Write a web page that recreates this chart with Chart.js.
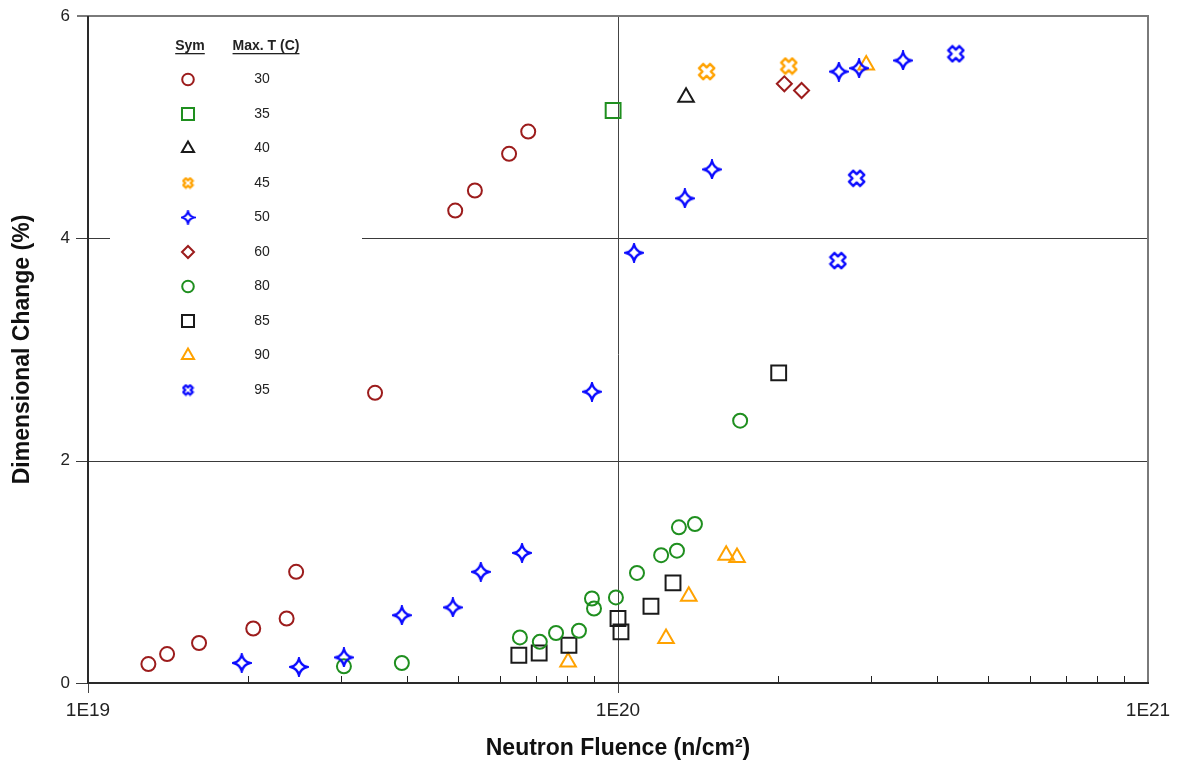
<!DOCTYPE html>
<html>
<head>
<meta charset="utf-8">
<script src="https://cdn.jsdelivr.net/npm/chart.js@4.4.1/dist/chart.umd.min.js"></script>
<style>
  html, body { margin: 0; padding: 0; background: #fff; }
  canvas { display: block; }
</style>
</head>
<body>
<canvas id="chart" width="1177" height="765"></canvas>
<script>
// fluence (n/cm²) and dimensional change (%) per max. irradiation temperature
const fluence30 = [1.30e19, 1.41e19, 1.62e19, 2.05e19, 2.37e19, 2.47e19, 3.48e19, 4.93e19, 5.37e19, 6.23e19, 6.77e19];
const change30 = [0.17, 0.26, 0.36, 0.49, 0.58, 1.00, 2.61, 4.25, 4.43, 4.76, 4.96];

const fluence35 = [9.79e19];
const change35 = [5.15];

const fluence40 = [1.344e20];
const change40 = [5.27];

const fluence45 = [1.47e20, 2.10e20];
const change45 = [5.50, 5.55];

const fluence50 = [1.95e19, 2.50e19, 3.04e19, 3.91e19, 4.88e19, 5.51e19, 6.59e19, 8.93e19, 1.072e20, 1.337e20, 1.504e20, 2.61e20, 2.85e20, 3.45e20];
const change50 = [0.18, 0.145, 0.23, 0.61, 0.68, 1.00, 1.17, 2.62, 3.87, 4.36, 4.62, 5.50, 5.53, 5.60];

const fluence60 = [2.06e20, 2.22e20];
const change60 = [5.39, 5.33];

const fluence80 = [3.04e19, 3.91e19, 6.53e19, 7.12e19, 7.64e19, 8.44e19, 8.93e19, 9.01e19, 9.91e19, 1.086e20, 1.206e20, 1.292e20, 1.303e20, 1.397e20, 1.70e20];
const change80 = [0.15, 0.18, 0.41, 0.37, 0.45, 0.47, 0.76, 0.67, 0.77, 0.99, 1.15, 1.19, 1.40, 1.43, 2.36];

const fluence85 = [6.50e19, 7.10e19, 8.08e19, 1.00e20, 1.013e20, 1.154e20, 1.27e20, 2.01e20];
const change85 = [0.25, 0.27, 0.34, 0.58, 0.46, 0.69, 0.90, 2.79];

const fluence90 = [8.05e19, 1.232e20, 1.36e20, 1.60e20, 1.677e20, 2.94e20];
const change90 = [0.19, 0.40, 0.78, 1.15, 1.13, 5.56];

const fluence95 = [4.34e20, 2.82e20, 2.60e20];
const change95 = [5.66, 4.54, 3.80];

const temps = ['30', '35', '40', '45', '50', '60', '80', '85', '90', '95'];
const yTicks = [0, 2, 4, 6];
const decades = [1e19, 1e20, 1e21];

const DARKRED = '#9c1c1c';
const GREEN = '#1f8f1f';
const BLACK = '#1a1a1a';
const ORANGE = '#ffa200';
const BLUE = '#0a0aff';

// 4-point star with concave sides
function makeStar(size, color, lw) {
  const c = document.createElement('canvas');
  c.width = c.height = size;
  const g = c.getContext('2d');
  const m = size / 2, R = m - lw / 2 - 0.5, k = R * 0.2;
  g.beginPath();
  g.moveTo(m, m - R);
  g.quadraticCurveTo(m + k, m - k, m + R, m);
  g.quadraticCurveTo(m + k, m + k, m, m + R);
  g.quadraticCurveTo(m - k, m + k, m - R, m);
  g.quadraticCurveTo(m - k, m - k, m, m - R);
  g.closePath();
  g.strokeStyle = color;
  g.lineWidth = lw;
  g.stroke();
  return c;
}

// outlined thick X
function makeCross(size, color, lw) {
  const c = document.createElement('canvas');
  c.width = c.height = size;
  const g = c.getContext('2d');
  const m = size / 2, L = m - lw / 2 - 0.5, a = L * 0.38;
  const pts = [[a, -L], [a, -a], [L, -a], [L, a], [a, a], [a, L], [-a, L], [-a, a], [-L, a], [-L, -a], [-a, -a], [-a, -L]];
  const cs = Math.SQRT1_2;
  g.beginPath();
  pts.forEach(([px, py], i) => {
    const rx = m + (px - py) * cs, ry = m + (px + py) * cs;
    if (i === 0) g.moveTo(rx, ry); else g.lineTo(rx, ry);
  });
  g.closePath();
  g.strokeStyle = color;
  g.lineWidth = lw;
  g.lineJoin = 'round';
  g.stroke();
  return c;
}

const starData = makeStar(20, BLUE, 2.4);
const starLegend = makeStar(15, BLUE, 2.2);
const crossOrange = makeCross(19, ORANGE, 2.4);
const crossOrangeLegend = makeCross(13, ORANGE, 2.2);
const crossBlue = makeCross(19, BLUE, 2.4);
const crossBlueLegend = makeCross(13, BLUE, 2.2);

function toPoints(xs, ys) {
  return xs.map((v, i) => ({ x: v, y: ys[i] }));
}

// per series: xs, ys, color, pointStyle, radius, key style, key radius
const series = [
  [fluence30, change30, DARKRED, 'circle', 7, 'circle', 5.8],
  [fluence35, change35, GREEN, 'rect', 10.5, 'rect', 8.5],
  [fluence40, change40, BLACK, 'triangle', 9, 'triangle', 7],
  [fluence45, change45, ORANGE, crossOrange, 9, crossOrangeLegend, 6],
  [fluence50, change50, BLUE, starData, 10, starLegend, 7],
  [fluence60, change60, DARKRED, 'rectRot', 7.5, 'rectRot', 6],
  [fluence80, change80, GREEN, 'circle', 7, 'circle', 5.8],
  [fluence85, change85, BLACK, 'rect', 10.5, 'rect', 8.5],
  [fluence90, change90, ORANGE, 'triangle', 9, 'triangle', 7],
  [fluence95, change95, BLUE, crossBlue, 9, crossBlueLegend, 6]
];

const datasets = series.map((s, i) => ({
  label: temps[i],
  data: toPoints(s[0], s[1]),
  borderColor: s[2],
  backgroundColor: 'rgba(0,0,0,0)',
  pointStyle: s[3],
  pointRadius: s[4],
  pointHoverRadius: s[4],
  pointBorderWidth: 2,
  showLine: false
}));

function line(ctx, x1, y1, x2, y2) {
  ctx.beginPath();
  ctx.moveTo(x1, y1);
  ctx.lineTo(x2, y2);
  ctx.stroke();
}

// axes box, grid lines and tick marks
const framePlugin = {
  id: 'frame',
  beforeDatasetsDraw(chart) {
    const { ctx, chartArea: a, scales: { x, y } } = chart;
    ctx.save();
    ctx.lineWidth = 1;
    ctx.strokeStyle = '#3a3a3a';
    const y2 = Math.round(y.getPixelForValue(2)) + 0.5;
    const y4 = Math.round(y.getPixelForValue(4)) + 0.5;
    line(ctx, a.left - 12, y2, a.right, y2);
    // the 4% line is broken where the key sits
    line(ctx, a.left - 12, y4, a.left + 22, y4);
    line(ctx, a.left + 274, y4, a.right, y4);
    line(ctx, a.left - 12, Math.round(a.bottom) + 0.5, a.left, Math.round(a.bottom) + 0.5);

    const x20 = Math.round(x.getPixelForValue(1e20)) + 0.5;
    ctx.strokeStyle = '#444';
    line(ctx, x20, a.top, x20, a.bottom + 10);
    line(ctx, a.left + 0.5, a.bottom, a.left + 0.5, a.bottom + 10);

    ctx.strokeStyle = '#222';
    decades.slice(0, 2).forEach(d => {
      for (let m = 2; m <= 9; m++) {
        const px = Math.round(x.getPixelForValue(d * m)) + 0.5;
        line(ctx, px, a.bottom - 7, px, a.bottom);
      }
    });

    // top and right border
    ctx.strokeStyle = '#7a7a7a';
    ctx.lineWidth = 2;
    line(ctx, a.left - 11, a.top, a.right, a.top);
    line(ctx, a.right, a.top - 1, a.right, a.bottom);

    // left and bottom axes
    ctx.strokeStyle = '#2a2a2a';
    ctx.lineWidth = 2;
    line(ctx, a.left, a.top, a.left, a.bottom + 1);
    line(ctx, a.left - 1, a.bottom, a.right + 1, a.bottom);
    ctx.restore();
  }
};

// symbol / temperature key in the upper left
const keyPlugin = {
  id: 'key',
  afterDatasetsDraw(chart) {
    const { ctx } = chart;
    const symX = 188, valX = 262, top = 46, step = 34.5;
    ctx.save();
    ctx.fillStyle = '#222';
    ctx.font = 'bold 14px "Liberation Sans", Arial, sans-serif';
    ctx.textAlign = 'center';
    ctx.textBaseline = 'middle';
    [['Sym', 190], ['Max. T (C)', 266]].forEach(([t, cx]) => {
      ctx.fillText(t, cx, top);
      const w = ctx.measureText(t).width;
      ctx.fillRect(cx - w / 2, top + 7, w, 1.3);
    });
    ctx.font = '14px "Liberation Sans", Arial, sans-serif';
    series.forEach((s, i) => {
      const cy = top + step * (i + 1) - 1;
      ctx.fillStyle = '#222';
      ctx.fillText(temps[i], valX, cy);
      ctx.strokeStyle = s[2];
      ctx.fillStyle = 'rgba(0,0,0,0)';
      ctx.lineWidth = 2;
      Chart.helpers.drawPoint(ctx, { pointStyle: s[5], radius: s[6], rotation: 0, borderWidth: 2 }, symX, cy);
    });
    ctx.restore();
  }
};

// keep the plot box fixed; labels are allowed to overhang its edges
function noOverhang(scale) {
  scale.paddingTop = 0;
  scale.paddingBottom = 0;
  scale.paddingLeft = 0;
  scale.paddingRight = 0;
}

new Chart(document.getElementById('chart'), {
  type: 'scatter',
  data: { datasets },
  options: {
    responsive: false,
    animation: false,
    devicePixelRatio: 1,
    layout: { padding: { left: 0, right: 29, top: 16, bottom: 0 } },
    plugins: {
      legend: { display: false },
      tooltip: { enabled: false }
    },
    scales: {
      x: {
        type: 'logarithmic',
        min: 1e19,
        max: 1e21,
        afterFit(scale) { scale.height = 82; noOverhang(scale); },
        grid: { display: false, drawTicks: false },
        border: { display: false },
        ticks: {
          autoSkip: false,
          maxRotation: 0,
          padding: 16,
          color: '#222',
          font: { family: '"Liberation Sans", Arial, sans-serif', size: 19 },
          callback(v) {
            const e = Math.round(Math.log10(v));
            return Math.abs(Math.log10(v) - e) < 1e-9 ? '1E' + e : '';
          }
        },
        title: {
          display: true,
          text: 'Neutron Fluence (n/cm²)',
          color: '#111',
          padding: { top: 0, bottom: 3 },
          font: { family: '"Liberation Sans", Arial, sans-serif', size: 23, weight: 'bold' }
        }
      },
      y: {
        min: 0,
        max: 6,
        afterFit(scale) { scale.width = 88; noOverhang(scale); },
        afterBuildTicks(scale) { scale.ticks = yTicks.map(v => ({ value: v })); },
        grid: { display: false, drawTicks: false },
        border: { display: false },
        ticks: {
          padding: 18,
          color: '#222',
          font: { family: '"Liberation Sans", Arial, sans-serif', size: 17 }
        },
        title: {
          display: true,
          text: 'Dimensional Change (%)',
          color: '#111',
          padding: { top: 9, bottom: 0 },
          font: { family: '"Liberation Sans", Arial, sans-serif', size: 23, weight: 'bold' }
        }
      }
    }
  },
  plugins: [framePlugin, keyPlugin]
});
</script>
</body>
</html>
